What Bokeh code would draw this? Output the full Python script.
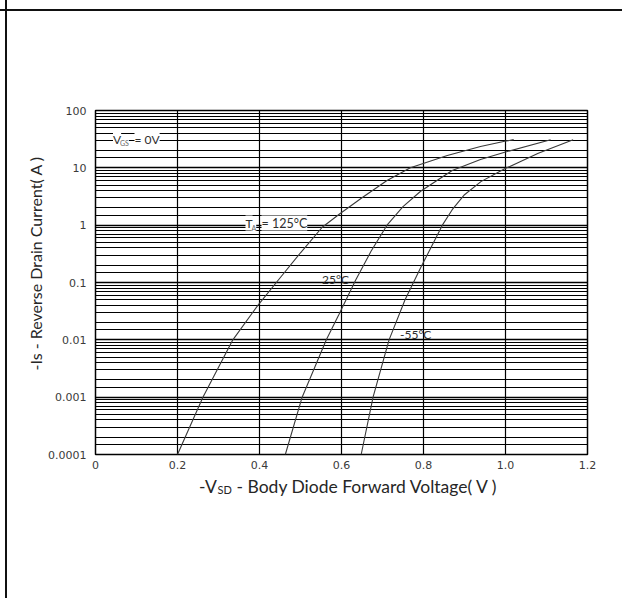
from bokeh.core.properties import value
from bokeh.embed import file_html
from bokeh.layouts import column
from bokeh.models import CustomJSTickFormatter, FixedTicker, Label, Range1d, Title
from bokeh.plotting import figure
from bokeh.resources import INLINE

# Body diode forward characteristics: -Vsd (V) vs -Is (A), three junction temperatures
v_125 = [0.200, 0.262, 0.335, 0.396, 0.441, 0.500, 0.553, 0.596, 0.650, 0.711, 0.768, 0.858, 0.939, 0.998, 1.020]
i_125 = [1e-4, 1e-3, 1e-2, 0.04, 0.10, 0.33, 0.92, 1.58, 3.0, 6.0, 10.0, 16.4, 23.5, 29.0, 31.0]

v_25 = [0.463, 0.504, 0.563, 0.594, 0.634, 0.672, 0.711, 0.750, 0.793, 0.870, 0.939, 0.998, 1.110]
i_25 = [1e-4, 1e-3, 1e-2, 0.028, 0.108, 0.35, 1.0, 2.1, 3.9, 9.0, 14.0, 18.7, 31.0]

v_m55 = [0.648, 0.677, 0.716, 0.755, 0.793, 0.846, 0.870, 0.900, 0.940, 0.998, 1.080, 1.165]
i_m55 = [1e-4, 1e-3, 1e-2, 0.05, 0.18, 1.0, 1.86, 3.4, 5.75, 9.6, 18.0, 31.0]

x_ticks = [0.0, 0.2, 0.4, 0.6, 0.8, 1.0, 1.2]
x_labels = ["0", "0.2", "0.4", "0.6", "0.8", "1.0", "1.2"]
x_grid = [0.2, 0.4, 0.6, 0.8, 1.0]

y_ticks = [1e-4, 1e-3, 1e-2, 1e-1, 1.0, 10.0, 100.0]
y_labels = ["0.0001", "0.001", "0.01", "0.1", "1", "10", "100"]
y_sub = [1.5, 2, 3, 4, 5, 6, 7, 8, 9]
y_minor = [d * m for d in y_ticks[:-1] for m in y_sub]

x_title_parts = ["-V", "SD", "- Body Diode Forward Voltage( V )"]
y_title = "-Is - Reverse Drain Current( A )"

# page / frame geometry (pixels)
W = 622
H_PLOT, H_XT = 474, 124
LEFT, RIGHT, TOP, BOTTOM = 95, 35, 110, 20
FW, FH = W - LEFT - RIGHT, H_PLOT - TOP - BOTTOM
X0, X1 = 0.0, 1.2
LY0, LY1 = -4.0, 2.0


def dx(px):
    """canvas x pixel -> data x"""
    return X0 + (px - LEFT) / FW * (X1 - X0)


def dy(py):
    """canvas y pixel -> data y (log axis)"""
    return 10 ** (LY1 - (py - TOP) / FH * (LY1 - LY0))


p = figure(
    width=W, height=H_PLOT,
    x_range=Range1d(X0, X1), y_range=Range1d(10 ** LY0, 10 ** LY1),
    y_axis_type="log",
    output_backend="svg", toolbar_location=None,
    min_border_left=LEFT, min_border_right=RIGHT,
    min_border_top=TOP, min_border_bottom=BOTTOM,
)
p.border_fill_color = None
p.background_fill_color = "white"
p.outline_line_color = "black"
p.outline_line_width = 1.5

fmt_code = """
const i = tvals.findIndex(t => Math.abs(t - tick) <= 1e-12 + 1e-6 * Math.abs(t));
return i >= 0 ? tlabels[i] : '';
"""

p.xaxis.ticker = FixedTicker(ticks=x_ticks)
p.xaxis.formatter = CustomJSTickFormatter(args=dict(tvals=x_ticks, tlabels=x_labels), code=fmt_code)
p.yaxis.ticker = FixedTicker(ticks=y_ticks, minor_ticks=y_minor)
p.yaxis.formatter = CustomJSTickFormatter(args=dict(tvals=y_ticks, tlabels=y_labels), code=fmt_code)

for ax in (p.xaxis, p.yaxis):
    ax.axis_line_color = None
    ax.major_tick_line_color = None
    ax.minor_tick_line_color = None
    ax.major_label_text_font = "DejaVu Sans"
    ax.major_label_text_font_size = "11px"
    ax.major_label_text_color = "#3a3a3a"
p.xaxis.major_label_standoff = 0
p.yaxis.major_label_standoff = 3

p.xgrid.ticker = FixedTicker(ticks=x_grid)
p.xgrid.grid_line_color = "black"
p.xgrid.grid_line_width = 1.2
p.ygrid.ticker = FixedTicker(ticks=y_ticks, minor_ticks=y_minor)
p.ygrid.grid_line_color = "black"
p.ygrid.grid_line_width = 1.5
p.ygrid.minor_grid_line_color = "black"
p.ygrid.minor_grid_line_width = 1

for vs, is_ in ((v_125, i_125), (v_25, i_25), (v_m55, i_m55)):
    p.line(vs, is_, line_color="#3a3a3a", line_width=1.1)

# vertical axis title, set in the left border next to the tick labels
p.add_layout(Title(
    text=y_title, align="left", offset=84, standoff=0, vertical_align="middle",
    text_font="Lato", text_font_size="16px", text_font_style="normal",
    text_color="#262626",
), "left")


def label(text, px, py, size, color="#2e2e2e", bg=None):
    p.add_layout(Label(
        x=dx(px), y=dy(py), text=text,
        text_font="Lato", text_font_size=f"{size}px", text_color=color,
        text_align="left", text_baseline="middle",
        background_fill_color=bg,
    ))


# curve annotations
label("V", 112.5, 138.5, 12, bg="white")
label("GS", 119.5, 142.5, 7, color="#666666", bg="white")
label("= 0V", 134, 138.5, 12, bg="white")
label("T", 245, 222.5, 12, bg="white")
label("A", 251, 227, 7, color="#666666", bg="white")
label("= 125°C", 261, 222.5, 12.5, bg="white")
label("25°C", 321.5, 278.5, 12)
label("-55°C", 399.5, 333.5, 12)

# strip below the chart holding the horizontal axis title (with subscript);
# the column aligns its frame with the chart frame, so its x range spans the
# same pixel columns as the chart frame
pt = figure(
    width=W, height=H_XT,
    x_range=Range1d(LEFT, W - RIGHT), y_range=Range1d(H_XT, 0),
    output_backend="svg", toolbar_location=None,
    x_axis_location=None, y_axis_location=None,
    min_border=0,
)
pt.grid.visible = False
pt.outline_line_color = None
pt.background_fill_color = None
pt.border_fill_color = None

t_main, t_sub, t_rest = x_title_parts
pt.text(x=[198.5], y=[12], text=[t_main], text_font=value("Lato"), text_font_size="17.5px",
        text_color="#262626", text_baseline="middle", text_align="left")
pt.text(x=[217], y=[14.5], text=[t_sub], text_font=value("Lato"), text_font_size="11px",
        text_color="#262626", text_baseline="middle", text_align="left")
pt.text(x=[236], y=[12], text=[t_rest], text_font=value("Lato"), text_font_size="17.5px",
        text_color="#262626", text_baseline="middle", text_align="left")

page = column(p, pt, spacing=0, styles={
    "background": "linear-gradient(#111,#111) 0px 9px / 100% 2px no-repeat, "
                  "linear-gradient(#111,#111) 5px 0px / 2px 100% no-repeat, #ffffff",
})

open("out.html", "w").write(file_html(page, INLINE))
